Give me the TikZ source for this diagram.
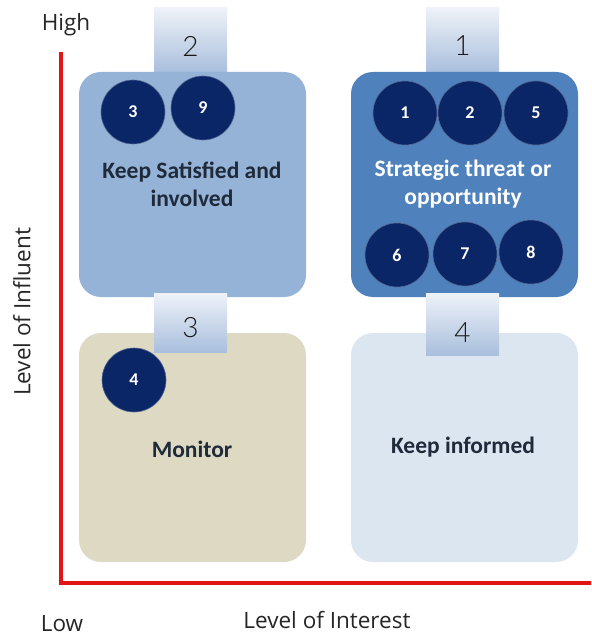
\documentclass[tikz,border=0pt]{standalone}
\usepackage{fontspec}
\setmainfont{Carlito}
\newfontfamily\axisfont{Open Sans}
\newfontfamily\tabfont{Lato Light}
\definecolor{tlfill}{HTML}{95B3D7}
\definecolor{trfill}{HTML}{4F81BD}
\definecolor{blfill}{HTML}{DDD9C3}
\definecolor{brfill}{HTML}{DCE6F1}
\definecolor{navy}{HTML}{0B2666}
\definecolor{axisred}{HTML}{E01515}
\definecolor{tabtop}{HTML}{EEF2F8}
\definecolor{tabbot}{HTML}{A9BFDD}
\definecolor{labeltext}{HTML}{1F2A3A}
\begin{document}
\begin{tikzpicture}[x=1pt,y=-1pt,
  quad/.style={draw=none, rounded corners=22pt},
  tabbox/.style={top color=tabtop, bottom color=tabbot, draw=none},
  tabnum/.style={font=\tabfont\fontsize{28}{30}\selectfont\color{black!90}},
  dot/.style={circle, fill=navy, draw=navy!70!white, line width=0.6pt, minimum size=64pt, inner sep=0pt,
    font=\bfseries\fontsize{18}{20}\selectfont, text=white},
  qlabel/.style={align=center, font=\bfseries\fontsize{23.5}{28}\selectfont},
  axlabel/.style={font=\axisfont\fontsize{22.5}{24}\selectfont, text=black!85}]
\useasboundingbox (0,0) rectangle (591,636);
\fill[white] (0,0) rectangle (591,636);
% tabs behind top boxes
\shade[tabbox] (154,8) rectangle (227,72);
\shade[tabbox] (426,8) rectangle (499,72);
% quadrants
\fill[quad, fill=tlfill] (79,72) rectangle (306,297);
\fill[quad, fill=trfill] (351,72) rectangle (578,297);
\fill[quad, fill=blfill] (79,333) rectangle (306,562);
\fill[quad, fill=brfill] (351,333) rectangle (578,562);
% tabs over bottom boxes
\shade[tabbox] (154,293) rectangle (227,352);
\shade[tabbox] (426,293) rectangle (499,355);
\node[tabnum] (t2) at (190.5,46) {2};
\node[tabnum] (t1) at (462.5,46) {1};
\node[tabnum] (t3) at (190.5,328) {3};
\node[tabnum] (t4) at (462.5,333) {4};
% axes
\coordinate (top) at (61,52);
\coordinate (origin) at (61,583);
\coordinate (right) at (591,583);
\draw[axisred, line width=4pt] (top) -- (origin) -- (right);
% labels
\node[qlabel, text=labeltext] (lsat) at (192,184) {Keep Satisfied and\\involved};
\node[qlabel, text=white] (lstr) at (463,184) {Strategic threat or\\opportunity};
\node[qlabel, text=labeltext] (lmon) at (192,449) {Monitor};
\node[qlabel, text=labeltext] (linf) at (463,447) {Keep informed};
% circles
\node[dot] (c3) at (133,112) {3};
\node[dot] (c9) at (203,108) {9};
\node[dot] (c1) at (405,113) {1};
\node[dot] (c2) at (470,113) {2};
\node[dot] (c5) at (536,113) {5};
\node[dot] (c6) at (397,255) {6};
\node[dot] (c7) at (465,254) {7};
\node[dot] (c8) at (531,252) {8};
\node[dot] (c4) at (134,380) {4};
% axis labels
\node[axlabel] (high) at (66,25) {High};
\node[axlabel] (low) at (62,624) {Low};
\node[axlabel] (xlab) at (327,620) {Level of Interest};
\node[axlabel, rotate=90] (ylab) at (22,312) {Level of Influent};
\end{tikzpicture}
\end{document}
